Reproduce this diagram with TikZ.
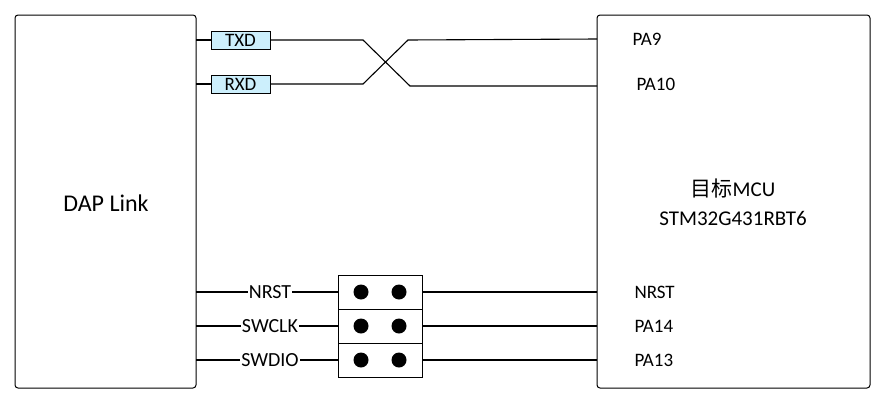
\documentclass[tikz,border=0pt]{standalone}
\usepackage{fontspec}
\setmainfont{Carlito}
\newfontfamily\cjk{Noto Sans CJK SC}
\begin{document}
\begin{tikzpicture}[x=1pt,y=-1pt,line width=1.1pt,
 blk/.style={draw,rounded corners=3pt,line width=1pt},
 sig/.style={draw,fill=cyan!20,minimum width=59pt,minimum height=18pt,inner sep=0pt,font=\fontsize{19}{19}\selectfont,line width=1pt},
 pin/.style={anchor=west,font=\fontsize{19}{19}\selectfont,inner sep=0pt},
 jl/.style={fill=white,inner sep=1pt,font=\fontsize{20}{20}\selectfont},
 jmp/.style={draw,minimum width=84pt,minimum height=34pt,inner sep=0pt,line width=1pt},
 dot/.style={circle,fill=black,minimum size=15pt,inner sep=0pt}]
\useasboundingbox (0,0) rectangle (889,402);
\draw[blk] (15,15) rectangle (196,388);
\draw[blk] (597,15) rectangle (870,388);
\node[font=\fontsize{24}{24}\selectfont] (dap) at (106,203) {DAP Link};
\node[align=center,font=\fontsize{21}{29}\selectfont] (mcu) at (733,202) {{\cjk 目标}MCU\\STM32G431RBT6};
\coordinate (L1) at (196,40); \coordinate (L2) at (196,84);
\node[sig] (txd) at (240.5,40) {TXD};
\node[sig] (rxd) at (240.5,84) {RXD};
\draw (L1) -- (txd.west); \draw (L2) -- (rxd.west);
\coordinate (R1) at (597,39); \coordinate (R2) at (597,86);
\draw (txd.east) -- (363,40) -- (410,86) -- (R2);
\draw (rxd.east) -- (363,84) -- (408,40) -- (R1);
\node[pin] (pa9) at (632,39) {PA9};
\node[pin] (pa10) at (636,84) {PA10};
\foreach \y/\n/\lab/\pl in {292/a/NRST/NRST,326/b/SWCLK/PA14,360/c/SWDIO/PA13}{
 \node[jmp] (j\n) at (380,\y) {};
 \node[dot] at (361,\y) {};
 \node[dot] at (399,\y) {};
 \coordinate (l\n) at (196,\y);
 \coordinate (r\n) at (597,\y);
 \draw (l\n) -- (j\n.west);
 \draw (j\n.east) -- (r\n);
 \node[jl] (t\n) at (270,\y) {\lab};
 \node[pin] (p\n) at (634,\y) {\pl};
}
\end{tikzpicture}
\end{document}
